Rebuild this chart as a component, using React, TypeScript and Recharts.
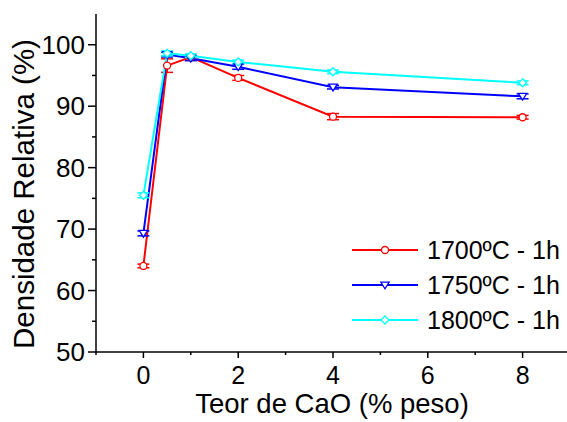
import React from "react";
import { LineChart, Line, XAxis, YAxis, ErrorBar } from "recharts";

const caoContent = [0, 0.5, 1, 2, 4, 8];
const density1700 = [64.0, 96.6, 98.0, 94.6, 88.3, 88.2];
const err1700 = [0.3, 1.1, 0.3, 0.4, 0.5, 0.3];
const density1750 = [69.3, 98.4, 97.8, 96.4, 93.1, 91.6];
const err1750 = [0.4, 0.4, 0.4, 0.4, 0.3, 0.4];
const density1800 = [75.5, 98.6, 98.2, 97.2, 95.6, 93.8];
const err1800 = [0.4, 0.4, 0.3, 0.3, 0.3, 0.3];
const seriesNames = ["1700ºC - 1h", "1750ºC - 1h", "1800ºC - 1h"];
const seriesColors = ["#ff0000", "#0000ff", "#00ffff"];
const xTicks = [-1, 0, 1, 2, 3, 4, 5, 6, 7, 8, 9];
const xLabelTicks = [0, 2, 4, 6, 8];
const yTicks = [50, 55, 60, 65, 70, 75, 80, 85, 90, 95, 100];
const yLabelTicks = [50, 60, 70, 80, 90, 100];

const build = (vals: number[], errs: number[]) =>
  caoContent.map((x, i) => ({ x, y: vals[i], e: errs[i] }));

const data1700 = build(density1700, err1700);
const data1750 = build(density1750, err1750);
const data1800 = build(density1800, err1800);

const FONT = "'Liberation Sans', Arial, sans-serif";

const CircleDot = (p: any) => {
  const { cx, cy, stroke, key } = p;
  if (cx == null || cy == null) return null;
  return <circle key={key} cx={cx} cy={cy} r={3.5} fill="#fff" stroke={stroke} strokeWidth={1.3} />;
};
const TriDot = (p: any) => {
  const { cx, cy, stroke, key } = p;
  if (cx == null || cy == null) return null;
  const s = 4.2;
  return (
    <path key={key} d={`M${cx - s},${cy - s * 0.7} L${cx + s},${cy - s * 0.7} L${cx},${cy + s * 0.9} Z`} fill="#fff" stroke={stroke} strokeWidth={1.3} />
  );
};
const DiamondDot = (p: any) => {
  const { cx, cy, stroke, key } = p;
  if (cx == null || cy == null) return null;
  const s = 4;
  return (
    <path key={key} d={`M${cx},${cy - s} L${cx + s},${cy} L${cx},${cy + s} L${cx - s},${cy} Z`} fill="#fff" stroke={stroke} strokeWidth={1.3} />
  );
};
const dotFns = [CircleDot, TriDot, DiamondDot];

const XTick = (p: any) => {
  const { x, y, payload } = p;
  const v = payload.value;
  const major = xLabelTicks.includes(v);
  return (
    <g>
      <line x1={x} y1={y} x2={x} y2={y + (major ? 6 : 3)} stroke="#000" strokeWidth={1.5} />
      {major && (
        <text x={x} y={y + 32} textAnchor="middle" fontSize={25} fontFamily={FONT} fill="#000">
          {v}
        </text>
      )}
    </g>
  );
};

const YTick = (p: any) => {
  const { x, y, payload } = p;
  const v = payload.value;
  const major = yLabelTicks.includes(v);
  return (
    <g>
      <line x1={x - (major ? 8 : 4)} y1={y} x2={x} y2={y} stroke="#000" strokeWidth={1.5} />
      {major && (
        <text x={x - 11} y={y + 9} textAnchor="end" fontSize={26} fontFamily={FONT} fill="#000">
          {v}
        </text>
      )}
    </g>
  );
};

const LegendBox = () => (
  <svg width={220} height={110} style={{ position: "absolute", left: 350, top: 235, display: "block" }}>
    {seriesNames.map((n, i) => {
      const cy = 15 + i * 35;
      const Dot = dotFns[i];
      return (
        <g key={n}>
          <line x1={2} x2={68} y1={cy} y2={cy} stroke={seriesColors[i]} strokeWidth={2} />
          <Dot cx={35} cy={cy} stroke={seriesColors[i]} />
          <text x={77} y={cy + 9} fontSize={25} fontFamily={FONT} fill="#000">
            {n}
          </text>
        </g>
      );
    })}
  </svg>
);

const YLabel = (p: any) => {
  const vb = p.viewBox;
  const cx = vb.x + 34;
  const cy = vb.y + vb.height / 2 + 11;
  return (
    <text x={cx} y={cy} transform={`rotate(-90, ${cx}, ${cy})`} textAnchor="middle" fontSize={29.5} fontFamily={FONT} fill="#000">
      Densidade Relativa (%)
    </text>
  );
};

const XLabel = (p: any) => {
  const vb = p.viewBox;
  const cx = vb.x + vb.width / 2 - 1;
  const cy = vb.y + 61;
  return (
    <text x={cx} y={cy} textAnchor="middle" fontSize={27.5} fontFamily={FONT} fill="#000">
      Teor de CaO (% peso)
    </text>
  );
};

export default function App() {
  return (
    <div style={{ position: "fixed", left: 0, top: 0, width: 567, height: 422, overflow: "hidden", background: "#fff" }}>
      <LineChart width={580} height={422} margin={{ top: 14, right: 10, bottom: 0, left: 0 }}>
        <XAxis
          dataKey="x"
          type="number"
          domain={[-1, 9]}
          ticks={xTicks}
          interval={0}
          tickSize={0}
          tickMargin={0}
          tickLine={false}
          tick={<XTick />}
          height={70}
          axisLine={{ stroke: "#000", strokeWidth: 1.5 }}
          allowDuplicatedCategory={false}
          label={<XLabel />}
        />
        <XAxis
          xAxisId="top"
          orientation="top"
          type="number"
          domain={[-1, 9]}
          height={0}
          tick={false}
          tickLine={false}
          axisLine={{ stroke: "#000", strokeWidth: 2 }}
        />
        <YAxis
          type="number"
          domain={[50, 105]}
          ticks={yTicks}
          interval={0}
          width={96}
          tickSize={0}
          tickMargin={0}
          tickLine={false}
          tick={<YTick />}
          axisLine={{ stroke: "#000", strokeWidth: 1.5 }}
          label={<YLabel />}
        />
        {[data1700, data1750, data1800].map((d, i) => (
          <Line
            key={seriesNames[i]}
            data={d}
            dataKey="y"
            name={seriesNames[i]}
            stroke={seriesColors[i]}
            strokeWidth={2}
            dot={dotFns[i]}
            activeDot={false}
            isAnimationActive={false}
          >
            <ErrorBar dataKey="e" width={6} stroke={seriesColors[i]} strokeWidth={1.5} direction="y" />
          </Line>
        ))}
      </LineChart>
      <LegendBox />
    </div>
  );
}
